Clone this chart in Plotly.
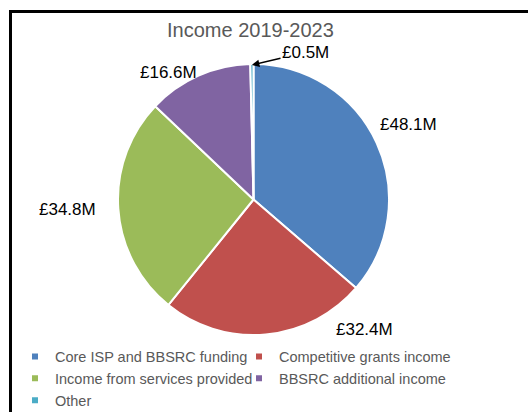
import math
import plotly.graph_objects as go

# Income sources (GBP millions)
categories = [
    "Core ISP and BBSRC funding",
    "Competitive grants income",
    "Income from services provided",
    "BBSRC additional income",
    "Other",
]
income_m = [48.1, 32.4, 34.8, 16.6, 0.5]
slice_colors = ["#4F81BD", "#C0504D", "#9BBB59", "#8064A2", "#4BACC6"]
title_text = "Income 2019-2023"

# Canvas and pie geometry in pixels
W, H = 528, 412
CX, CY, R = 253.5, 199.5, 135.5

# Data label centres in pixels (same order as categories)
label_pos = [(408, 125), (364, 329), (67, 209), (168, 72), (305.5, 52.5)]
FONT = "Liberation Sans, Arial, sans-serif"


def px(x):
    return x / W


def py(y):
    return 1 - y / H


fig = go.Figure()

fig.add_trace(go.Pie(
    labels=categories,
    values=income_m,
    sort=False,
    direction="clockwise",
    rotation=0,
    marker=dict(colors=slice_colors, line=dict(color="white", width=2)),
    textinfo="none",
    hoverinfo="label+value",
    showlegend=False,
    domain=dict(x=[px(CX - R), px(CX + R)], y=[py(CY + R), py(CY - R)]),
))

# Legend entries with small square swatches
for name, col in zip(categories, slice_colors):
    fig.add_trace(go.Scatter(
        x=[None], y=[None], mode="markers", name=name,
        marker=dict(symbol="square", size=6, color=col),
        showlegend=True, hoverinfo="skip",
    ))

annotations = []
total = sum(income_m)
for i, (val, (lx, ly)) in enumerate(zip(income_m, label_pos)):
    text = f"£{val}M"
    if i == len(income_m) - 1:
        # small slice: label with a leader arrow to the slice edge
        mid = (sum(income_m[:i]) + val / 2) / total * 2 * math.pi
        tx = CX + (R - 1) * math.sin(mid)
        ty = CY - (R - 1) * math.cos(mid)
        annotations.append(dict(
            x=px(tx), y=py(ty), xref="paper", yref="paper",
            text=text, showarrow=True, ax=lx - tx, ay=ly - ty,
            arrowhead=2, arrowsize=1, arrowwidth=1.5, arrowcolor="black",
            standoff=0, startstandoff=0,
            font=dict(family=FONT, size=17, color="black"),
        ))
    else:
        annotations.append(dict(
            x=px(lx), y=py(ly), xref="paper", yref="paper",
            text=text, showarrow=False, xanchor="center", yanchor="middle",
            font=dict(family=FONT, size=17, color="black"),
        ))

annotations.append(dict(
    x=px(250.5), y=py(29.5), xref="paper", yref="paper",
    text=title_text, showarrow=False, xanchor="center", yanchor="middle",
    font=dict(family=FONT, size=20, color="#595959"),
))

fig.update_layout(
    width=W, height=H,
    margin=dict(l=0, r=0, t=0, b=0, autoexpand=False),
    paper_bgcolor="white", plot_bgcolor="white",
    annotations=annotations,
    xaxis=dict(visible=False), yaxis=dict(visible=False),
    showlegend=True,
    legend=dict(
        orientation="h", x=px(15), y=py(340.5), xanchor="left", yanchor="top",
        entrywidth=179, entrywidthmode="pixels",
        font=dict(family=FONT, size=14.5, color="#595959"),
        bgcolor="rgba(0,0,0,0)", itemclick=False, itemdoubleclick=False,
    ),
    shapes=[dict(
        type="rect", xref="paper", yref="paper",
        x0=px(10.5), x1=1.3, y0=-0.3, y1=py(11.5),
        line=dict(color="black", width=3),
    )],
)

fig.write_html("out.html")
